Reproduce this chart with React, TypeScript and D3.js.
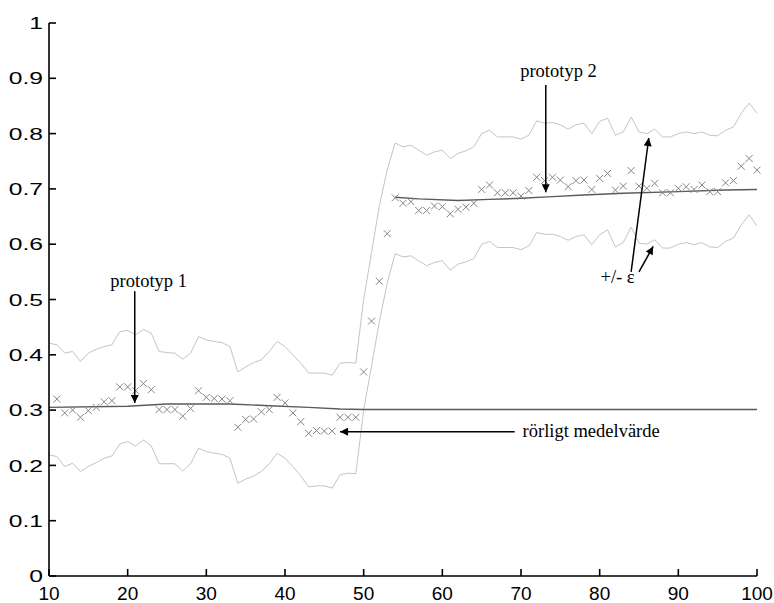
import React from "react"
import * as d3 from "d3"

const xTicks = [10, 20, 30, 40, 50, 60, 70, 80, 90, 100]
const yTicks = [0, 0.1, 0.2, 0.3, 0.4, 0.5, 0.6, 0.7, 0.8, 0.9, 1]

// observations, one per step starting at x = 11
const sampleStart = 11
const samples = [
  0.320, 0.295, 0.300, 0.287, 0.299, 0.305, 0.315, 0.317, 0.342, 0.342,
  0.335, 0.348, 0.337, 0.301, 0.301, 0.301, 0.289, 0.303, 0.335, 0.323,
  0.321, 0.320, 0.317, 0.269, 0.283, 0.284, 0.297, 0.301, 0.323, 0.313,
  0.295, 0.279, 0.258, 0.263, 0.262, 0.262, 0.287, 0.287, 0.287, 0.369,
  0.461, 0.533, 0.619, 0.684, 0.674, 0.677, 0.661, 0.661, 0.669, 0.668,
  0.655, 0.663, 0.667, 0.674, 0.699, 0.707, 0.693, 0.693, 0.693, 0.687,
  0.697, 0.721, 0.715, 0.721, 0.716, 0.704, 0.715, 0.716, 0.699, 0.719,
  0.728, 0.698, 0.705, 0.733, 0.705, 0.701, 0.710, 0.693, 0.693, 0.701,
  0.704, 0.699, 0.707, 0.695, 0.695, 0.711, 0.715, 0.741, 0.755, 0.734,
]

// +/- epsilon envelope, one per step starting at x = 10
const bandStart = 10
const upperBand = [
  0.421, 0.418, 0.403, 0.406, 0.388, 0.403, 0.410, 0.415, 0.418, 0.442,
  0.444, 0.436, 0.446, 0.439, 0.406, 0.404, 0.403, 0.392, 0.403, 0.433,
  0.427, 0.424, 0.422, 0.415, 0.369, 0.378, 0.386, 0.391, 0.406, 0.424,
  0.415, 0.400, 0.385, 0.367, 0.367, 0.367, 0.363, 0.385, 0.386, 0.385,
  0.500, 0.585, 0.670, 0.735, 0.783, 0.776, 0.779, 0.770, 0.761, 0.767,
  0.770, 0.755, 0.764, 0.769, 0.776, 0.800, 0.806, 0.794, 0.794, 0.794,
  0.790, 0.797, 0.823, 0.819, 0.820, 0.816, 0.808, 0.816, 0.819, 0.800,
  0.822, 0.828, 0.797, 0.803, 0.830, 0.803, 0.800, 0.808, 0.794, 0.794,
  0.800, 0.803, 0.800, 0.803, 0.797, 0.796, 0.806, 0.812, 0.837, 0.855,
  0.837,
]
const lowerBand = [
  0.219, 0.216, 0.198, 0.204, 0.189, 0.198, 0.205, 0.213, 0.217, 0.239,
  0.243, 0.235, 0.246, 0.235, 0.203, 0.203, 0.203, 0.190, 0.203, 0.231,
  0.225, 0.222, 0.220, 0.213, 0.168, 0.175, 0.181, 0.189, 0.203, 0.222,
  0.213, 0.198, 0.181, 0.161, 0.163, 0.163, 0.159, 0.183, 0.186, 0.185,
  0.300, 0.380, 0.460, 0.530, 0.583, 0.577, 0.579, 0.570, 0.561, 0.567,
  0.570, 0.553, 0.564, 0.568, 0.574, 0.600, 0.605, 0.594, 0.594, 0.594,
  0.590, 0.597, 0.621, 0.618, 0.618, 0.614, 0.607, 0.614, 0.617, 0.599,
  0.617, 0.626, 0.595, 0.603, 0.631, 0.602, 0.600, 0.608, 0.593, 0.593,
  0.600, 0.603, 0.599, 0.603, 0.595, 0.594, 0.605, 0.611, 0.635, 0.653,
  0.633,
]

// moving average, prototype 1 and prototype 2
const proto1X = [10, 20, 25, 33, 38, 43, 47, 50, 100]
const proto1Y = [0.305, 0.307, 0.311, 0.311, 0.308, 0.305, 0.302, 0.301, 0.301]
const proto2X = [54, 57, 62, 66, 70, 74, 78, 83, 90, 96, 100]
const proto2Y = [0.685, 0.682, 0.679, 0.681, 0.683, 0.686, 0.689, 0.692, 0.695, 0.698, 0.699]

const annotations = [
  { label: "prototyp 1", x: 17.8, y: 0.523, arrows: [[20.9, 0.515, 20.9, 0.313]] },
  { label: "prototyp 2", x: 69.9, y: 0.902, arrows: [[73.15, 0.888, 73.15, 0.694]] },
  { label: "rörligt medelvärde", x: 70.2, y: 0.251, arrows: [[69.2, 0.261, 47.0, 0.261]] },
  {
    label: "+/- ε",
    x: 80.1,
    y: 0.53,
    arrows: [
      [84.0, 0.55, 86.24, 0.792],
      [85.0, 0.55, 86.8, 0.596],
    ],
  },
]

const width = 774
const height = 603

export default function App() {
  const x = d3.scaleLinear().domain([10, 100]).range([49, 757])
  const y = d3.scaleLinear().domain([0, 1]).range([576, 23])

  const line = d3
    .line<[number, number]>()
    .x(d => x(d[0]))
    .y(d => y(d[1]))

  const upper = upperBand.map((v, i) => [bandStart + i, v] as [number, number])
  const lower = lowerBand.map((v, i) => [bandStart + i, v] as [number, number])
  const p1 = proto1X.map((v, i) => [v, proto1Y[i]] as [number, number])
  const p2 = proto2X.map((v, i) => [v, proto2Y[i]] as [number, number])

  const tickFmt = (d: number) => String(+d.toFixed(1))

  return (
    <svg
      width={width}
      height={height}
      style={{ position: "absolute", left: 0, top: 0, background: "white" }}
    >
      <defs>
        <marker
          id="head"
          viewBox="0 0 10 10"
          refX={10}
          refY={5}
          markerWidth={11}
          markerHeight={8}
          markerUnits="userSpaceOnUse"
          orient="auto"
        >
          <path d="M0,0L10,5L0,10z" fill="black" />
        </marker>
      </defs>

      {/* envelope */}
      <path d={line(upper) ?? ""} fill="none" stroke="#c4c4c4" strokeWidth={1} />
      <path d={line(lower) ?? ""} fill="none" stroke="#c4c4c4" strokeWidth={1} />

      {/* moving averages */}
      <path d={line(p1) ?? ""} fill="none" stroke="#5a5a5a" strokeWidth={1.4} />
      <path d={line(p2) ?? ""} fill="none" stroke="#5a5a5a" strokeWidth={1.4} />

      {/* samples */}
      {samples.map((v, i) => {
        const cx = x(sampleStart + i)
        const cy = y(v)
        return (
          <path
            key={i}
            d={`M${cx - 3.5},${cy - 3.5}L${cx + 3.5},${cy + 3.5}M${cx - 3.5},${cy + 3.5}L${cx + 3.5},${cy - 3.5}`}
            stroke="#858585"
            strokeWidth={1}
            fill="none"
          />
        )
      })}

      {/* axes */}
      <g stroke="black" strokeWidth={1.6} fill="none">
        <line x1={x(10)} x2={x(10)} y1={y(0)} y2={y(1)} />
        <line x1={x(10)} x2={x(100)} y1={y(0)} y2={y(0)} />
        {yTicks.map(t => (
          <line key={t} x1={x(10)} x2={x(10) + 7} y1={y(t)} y2={y(t)} />
        ))}
        {xTicks.map(t => (
          <line key={t} x1={x(t)} x2={x(t)} y1={y(0)} y2={y(0) - 7} />
        ))}
      </g>
      <g fontFamily="'Liberation Sans', Arial, sans-serif" fill="black">
        {yTicks.map(t => (
          <text
            key={t}
            transform={`translate(${x(10) - 6},${y(t)}) scale(1.45,1)`}
            dy="0.36em"
            textAnchor="end"
            fontSize={17}
          >
            {tickFmt(t)}
          </text>
        ))}
        {xTicks.map(t => (
          <text key={t} x={x(t)} y={y(0) + 24} textAnchor="middle" fontSize={19}>
            {tickFmt(t)}
          </text>
        ))}
      </g>

      {/* annotations */}
      {annotations.map((a, i) => (
        <g key={i}>
          <text
            x={x(a.x)}
            y={y(a.y)}
            fontFamily="'Liberation Serif', 'Times New Roman', serif"
            fontSize={18.5}
            fill="black"
          >
            {a.label}
          </text>
          {a.arrows.map((r, j) => (
            <line
              key={j}
              x1={x(r[0])}
              y1={y(r[1])}
              x2={x(r[2])}
              y2={y(r[3])}
              stroke="black"
              strokeWidth={1.5}
              markerEnd="url(#head)"
            />
          ))}
        </g>
      ))}
    </svg>
  )
}
